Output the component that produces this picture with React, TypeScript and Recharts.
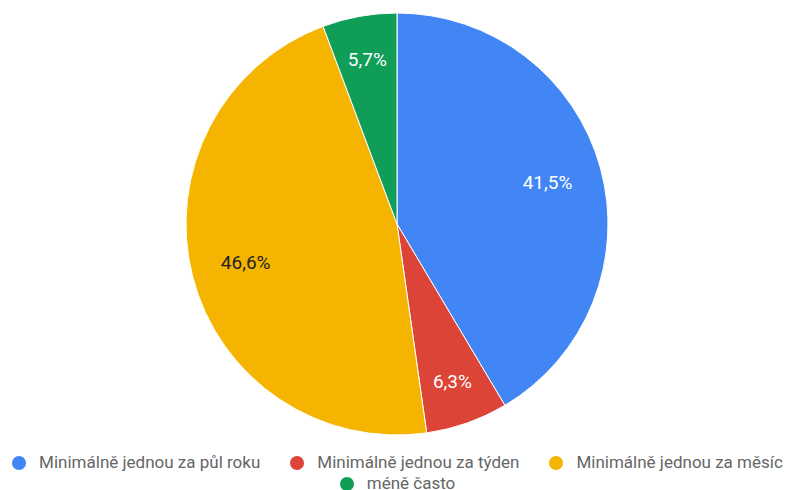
import { PieChart, Pie, Cell, Legend } from "recharts";

const categories = [
  "Minimálně jednou za půl roku",
  "Minimálně jednou za týden",
  "Minimálně jednou za měsíc",
  "méně často",
];
const values = [41.5, 6.3, 46.6, 5.7];
const colors = ["#4285F4", "#DB4437", "#F4B400", "#0F9D58"];
const labelColors = ["#ffffff", "#ffffff", "#222222", "#ffffff"];

const data = categories.map((name, i) => ({ name, value: values[i] }));

const RADIAN = Math.PI / 180;

function renderLabel(props: any) {
  const { cx, cy, midAngle, outerRadius, percent, index } = props;
  // small slices get their label pushed further out
  const r = outerRadius * (percent < 0.1 ? 0.79 : 0.74);
  const x = cx + r * Math.cos(-midAngle * RADIAN);
  const y = cy + r * Math.sin(-midAngle * RADIAN);
  return (
    <text
      x={x}
      y={y}
      fill={labelColors[index]}
      textAnchor="middle"
      dominantBaseline="central"
      fontSize={19}
      fontFamily="Roboto, sans-serif"
    >
      {(percent * 100).toFixed(1).replace(".", ",")}%
    </text>
  );
}

function LegendContent() {
  return (
    <div
      style={{
        display: "flex",
        flexWrap: "wrap",
        justifyContent: "center",
        columnGap: 30,
        width: 787,
        fontFamily: "Roboto, sans-serif",
        fontSize: 17,
        color: "#666",
        lineHeight: "21px",
      }}
    >
      {categories.map((c, i) => (
        <div key={c} style={{ display: "flex", alignItems: "center" }}>
          <span
            style={{
              width: 14,
              height: 14,
              borderRadius: "50%",
              background: colors[i],
              marginRight: 13,
              display: "inline-block",
            }}
          />
          <span>{c}</span>
        </div>
      ))}
    </div>
  );
}

export default function App() {
  return (
    <div style={{ position: "absolute", left: 0, top: 0, background: "#fff" }}>
      <PieChart width={787} height={490} margin={{ top: 0, right: 0, bottom: 0, left: 0 }}>
        <Pie
          data={data}
          dataKey="value"
          nameKey="name"
          cx={397}
          cy={224}
          outerRadius={211}
          startAngle={90}
          endAngle={-270}
          stroke="#fff"
          strokeWidth={1}
          label={renderLabel}
          labelLine={false}
          isAnimationActive={false}
        >
          {data.map((d, i) => (
            <Cell key={d.name} fill={colors[i]} />
          ))}
        </Pie>
        <Legend
          content={<LegendContent />}
          wrapperStyle={{ position: "absolute", left: 4, top: 452, width: 787 }}
        />
      </PieChart>
    </div>
  );
}
